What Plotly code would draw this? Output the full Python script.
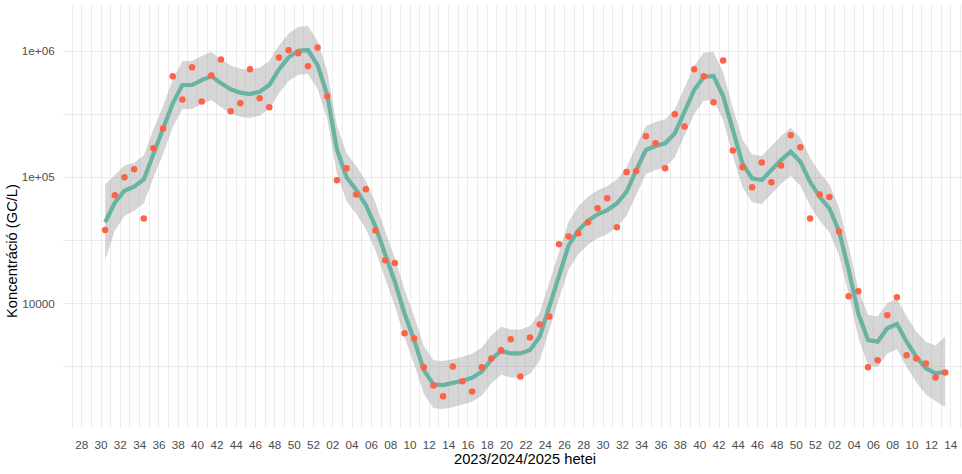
import datetime as dt
import pandas as pd
import plotly.graph_objects as go

# ---------------- data ----------------
# ISO sampling weeks: 2023-W30 .. 2025-W13
years = [2023] * 23 + [2024] * 52 + [2025] * 13
weeks = list(range(30, 53)) + list(range(1, 53)) + list(range(1, 14))

# measured concentrations (GC/L)
concentration = [
    # 2023 w30-w52
    38200, 71900, 100000, 115600, 47200, 169400, 243800, 631000, 414000, 743000,
    399000, 641000, 859000, 333000, 385000, 716000, 422000, 358000, 891000, 1014000,
    959000, 757000, 1069000,
    # 2024 w1-w52
    438000, 94600, 117800, 73100, 80200, 37900, 22000, 20900, 5800, 5280,
    3120, 2240, 1840, 3160, 2420, 2010, 3120, 3670, 4250, 5200,
    2640, 5380, 6820, 7890, 29400, 34000, 36000, 44000, 56800, 68100,
    40100, 110000, 112000, 211000, 186000, 118000, 315000, 253000, 716000, 631000,
    393000, 843000, 163000, 120000, 83200, 131000, 91200, 124000, 215000, 173000,
    47200, 73100,
    # 2025 w1-w13
    69700, 37200, 11400, 12500, 3120, 3540, 8050, 11200, 3880, 3670,
    3350, 2590, 2840,
]

# smoothed trend (log10 GC/L)
smooth_log = [
    # 2023
    4.643, 4.798, 4.893, 4.925, 4.983, 5.189, 5.374, 5.586, 5.731, 5.731,
    5.770, 5.802, 5.744, 5.697, 5.670, 5.659, 5.678, 5.731, 5.855, 5.950,
    6.002, 6.008, 5.889,
    # 2024
    5.651, 5.220, 5.000, 4.900, 4.780, 4.608, 4.384, 4.172, 3.921, 3.710,
    3.472, 3.359, 3.353, 3.367, 3.388, 3.411, 3.459, 3.557, 3.625, 3.604,
    3.604, 3.631, 3.736, 3.974, 4.225, 4.460, 4.580, 4.655, 4.707, 4.740,
    4.793, 4.885, 5.057, 5.216, 5.247, 5.269, 5.348, 5.519, 5.691, 5.797,
    5.802, 5.643, 5.361, 5.110, 4.991, 4.978, 5.057, 5.136, 5.202, 5.123,
    4.964, 4.845,
    # 2025
    4.754, 4.572, 4.265, 3.921, 3.710, 3.697, 3.803, 3.837, 3.697, 3.578,
    3.486, 3.446, 3.459,
]

# half width of the confidence band (log10 units)
band_half = [
    0.30, 0.22, 0.20, 0.19, 0.19, 0.19, 0.19, 0.19, 0.19, 0.19,
    0.19, 0.19, 0.19, 0.19, 0.19, 0.19, 0.19, 0.19, 0.19, 0.19,
    0.19, 0.19, 0.19,
    0.19, 0.19, 0.19, 0.19, 0.19, 0.19, 0.19, 0.19, 0.19, 0.19,
    0.19, 0.19, 0.19, 0.19, 0.19, 0.19, 0.19, 0.19, 0.19, 0.19,
    0.19, 0.19, 0.19, 0.19, 0.19, 0.19, 0.19, 0.19, 0.19, 0.19,
    0.19, 0.19, 0.19, 0.19, 0.19, 0.19, 0.19, 0.19, 0.19, 0.19,
    0.19, 0.19, 0.19, 0.19, 0.19, 0.19, 0.19, 0.19, 0.19, 0.19,
    0.19, 0.19,
    0.19, 0.19, 0.19, 0.19, 0.20, 0.20, 0.20, 0.20, 0.20, 0.20,
    0.21, 0.22, 0.28,
]

y_tick_vals = [10 ** 3.5, 1e4, 10 ** 4.5, 1e5, 10 ** 5.5, 1e6]
y_tick_text = ["", "10000", "", "1e+05", "", "1e+06"]

x_title = "2023/2024/2025 hetei"
y_title = "Koncentráció (GC/L)"

# ---------------- derived ----------------
# samples are dated on the Thursday of each ISO week
sample_dates = [dt.date.fromisocalendar(y, w, 4) for y, w in zip(years, weeks)]
upper = [10 ** (s + h) for s, h in zip(smooth_log, band_half)]
lower = [10 ** (s - h) for s, h in zip(smooth_log, band_half)]
smooth = [10 ** s for s in smooth_log]

# weekly grid (Mondays), labelled every second ISO week
grid_mondays = pd.date_range(dt.date.fromisocalendar(2023, 27, 1),
                             dt.date.fromisocalendar(2025, 15, 1), freq="7D")
grid_text = [f"{d.isocalendar()[1]:02d}" if d.isocalendar()[1] % 2 == 0 else ""
             for d in grid_mondays]

# ---------------- figure ----------------
W, H = 962, 474
ML, MR, MT, MB = 63, 0, 5, 46
PW, PH = W - ML - MR, H - MT - MB

fig = go.Figure()
fig.add_trace(go.Scatter(
    x=sample_dates + sample_dates[::-1], y=upper + lower[::-1],
    fill="toself", fillcolor="rgba(153,153,153,0.4)", line=dict(width=0),
    mode="lines", hoverinfo="skip", showlegend=False))
fig.add_trace(go.Scatter(
    x=sample_dates, y=smooth, mode="lines",
    line=dict(color="#69b3a2", width=4.2), showlegend=False))
fig.add_trace(go.Scatter(
    x=sample_dates, y=concentration, mode="markers",
    marker=dict(color="#FF6347", size=6.5, line=dict(width=0)), showlegend=False))

ref = pd.Timestamp(dt.date.fromisocalendar(2023, 28, 1))
px_per_week = 9.656
x0 = ref + pd.Timedelta(days=7 * (ML - 81.7) / px_per_week)
x1 = ref + pd.Timedelta(days=7 * (W - MR - 81.7) / px_per_week)

tick_font = dict(family="Liberation Sans, Arial, sans-serif", size=11.7, color="#4D4D4D")
fig.update_layout(
    width=W, height=H,
    margin=dict(l=ML, r=MR, t=MT, b=MB, pad=0),
    paper_bgcolor="white", plot_bgcolor="white",
    showlegend=False,
    xaxis=dict(type="date", range=[x0, x1], tickmode="array",
               tickvals=list(grid_mondays), ticktext=grid_text,
               showgrid=True, gridcolor="#EBEBEB", gridwidth=1,
               zeroline=False, showline=False,
               ticks="outside", ticklen=6, tickcolor="rgba(0,0,0,0)",
               tickfont=tick_font, tickangle=0),
    yaxis=dict(type="log", range=[3.013, 6.365], tickmode="array",
               tickvals=y_tick_vals, ticktext=y_tick_text,
               showgrid=True, gridcolor="#EBEBEB", gridwidth=1,
               zeroline=False, showline=False,
               ticks="outside", ticklen=5, tickcolor="rgba(0,0,0,0)",
               tickfont=tick_font),
    annotations=[
        dict(text=x_title, xref="paper", yref="paper",
             x=(525 - ML) / PW, y=(MT + PH - 459) / PH,
             xanchor="center", yanchor="middle", showarrow=False,
             font=dict(family="Liberation Sans, Arial, sans-serif", size=14.7, color="black")),
        dict(text=y_title, xref="paper", yref="paper",
             x=(12 - ML) / PW, y=(MT + PH - 251) / PH, textangle=-90,
             xanchor="center", yanchor="middle", showarrow=False,
             font=dict(family="Liberation Sans, Arial, sans-serif", size=14.7, color="black")),
    ],
)

fig.write_html("out.html")
